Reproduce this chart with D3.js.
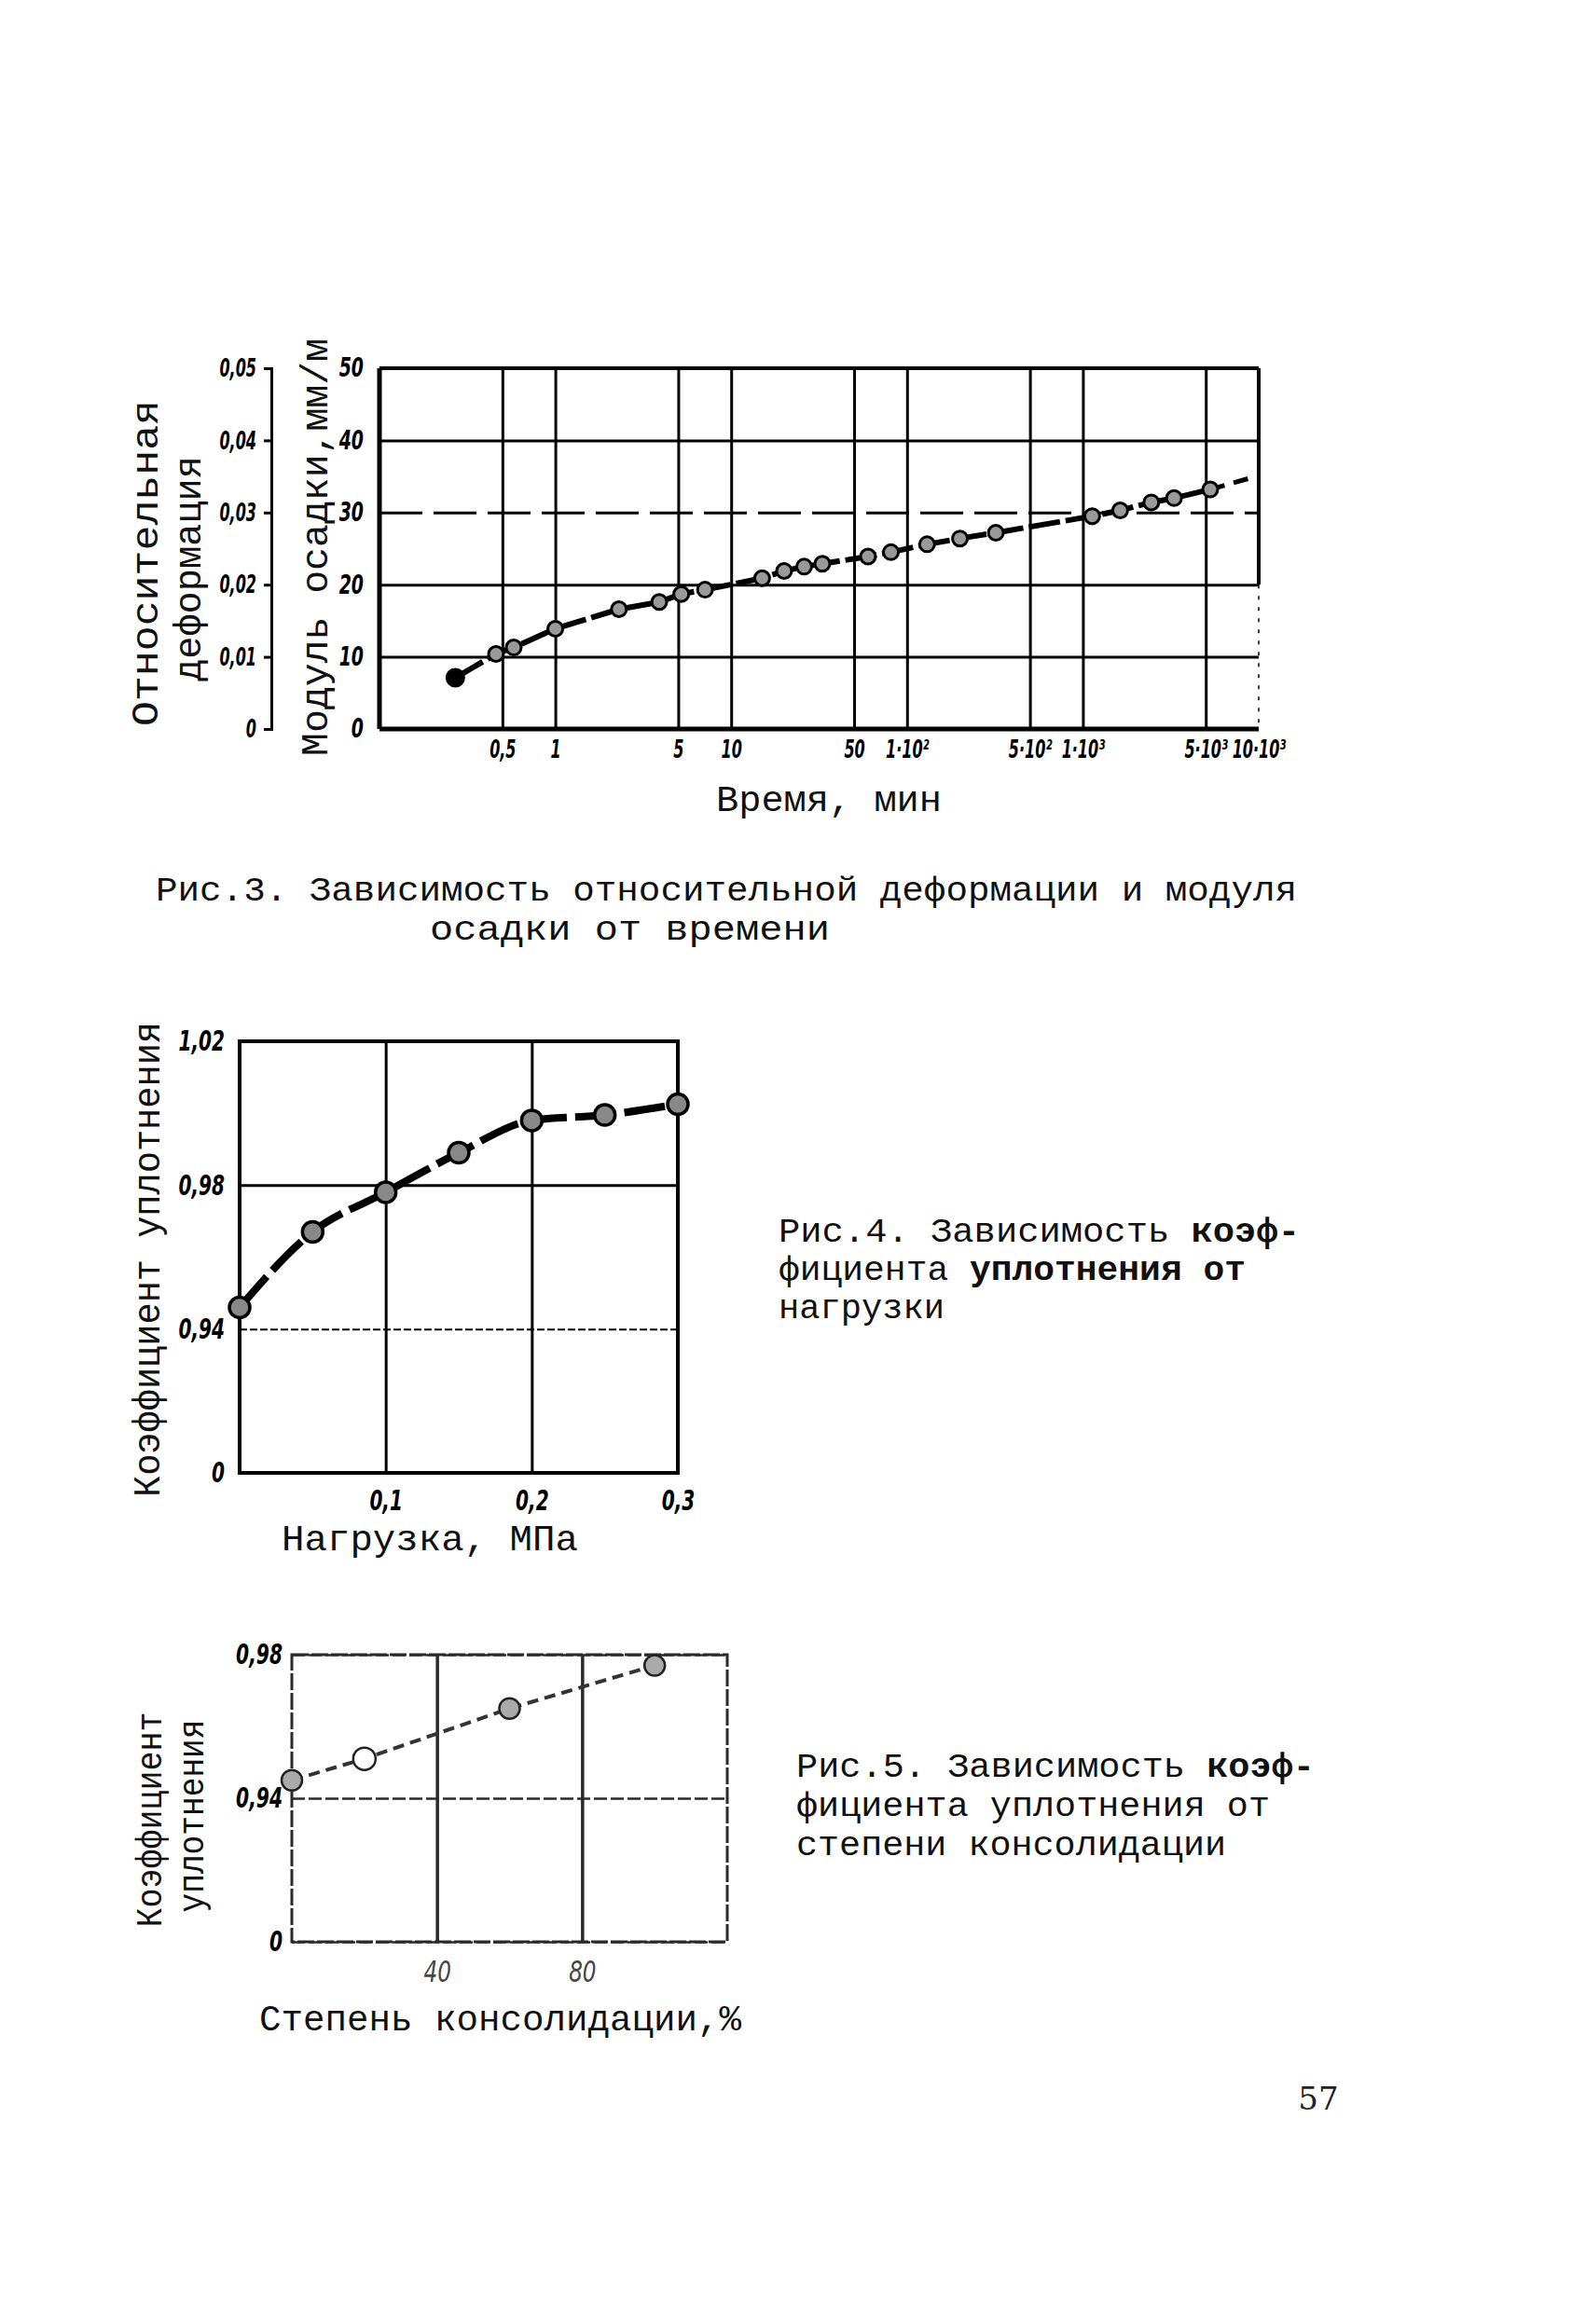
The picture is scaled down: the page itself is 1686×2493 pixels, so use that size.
<!DOCTYPE html>
<html>
<head>
<meta charset="utf-8">
<script src="https://cdn.jsdelivr.net/npm/d3@7"></script>
<style>
  body { margin: 0; background: #fff; }
  .tk text { font-family: "Liberation Sans Narrow", "DejaVu Sans Condensed", "Liberation Sans", sans-serif;
             font-weight: bold; font-style: italic; fill: #000; }
  .tw { font-family: "Liberation Mono", "DejaVu Sans Mono", monospace; fill: #111; }
</style>
</head>
<body>
<svg id="page"></svg>
<script>
// ---- Рис.3 : modulus vs time (log)
var time    = [0.27, 0.46, 0.58, 1, 2.3, 3.9, 5.2, 7.1, 15, 20, 26, 33, 60, 81, 130, 200, 320, 1130, 1630, 2450, 3300, 5300];
var modulus = [7.1, 10.4, 11.3, 13.9, 16.6, 17.6, 18.7, 19.3, 20.9, 21.9, 22.5, 22.9, 23.9, 24.5, 25.6, 26.4, 27.2, 29.5, 30.3, 31.4, 32.0, 33.2];
var timeTail    = [5300, 9000];
var modulusTail = [33.2, 34.8];
var timeTicks  = [0.5, 1, 5, 10, 50, 100, 500, 1000, 5000, 10000];
var timeLabels = ["0,5", "1", "5", "10", "50", "1·10²", "5·10²", "1·10³", "5·10³", "10·10³"];
var modulusTicks = [0, 10, 20, 30, 40, 50];
var strainTicks  = [0, 0.01, 0.02, 0.03, 0.04, 0.05];
var strainLabels = ["0", "0,01", "0,02", "0,03", "0,04", "0,05"];

// ---- Рис.4 : compaction vs load
var load       = [0, 0.05, 0.1, 0.15, 0.2, 0.25, 0.3];
var compaction = [0.946, 0.967, 0.978, 0.989, 0.998, 0.9995, 1.0025];
var loadTicks  = [0.1, 0.2, 0.3];
var loadLabels = ["0,1", "0,2", "0,3"];
var kTicks  = [0, 0.94, 0.98, 1.02];
var kLabels = ["0", "0,94", "0,98", "1,02"];

// ---- Рис.5 : compaction vs consolidation
var consolidation = [0, 20, 60, 100];
var compaction5   = [0.945, 0.951, 0.965, 0.977];
var consTicks  = [40, 80];
var consLabels = ["40", "80"];
var k5Ticks  = [0, 0.94, 0.98];
var k5Labels = ["0", "0,94", "0,98"];

var svg = d3.select("#page").attr("width", 1686).attr("height", 2493);
svg.append("rect").attr("width", 1686).attr("height", 2493).attr("fill", "#fff");

// typewriter text, stretched to the measured length
function tw(x, y, str, len, rot, size) {
  var g = svg.append("g").attr("transform", "translate(" + x + "," + y + ")" + (rot ? " rotate(-90)" : ""));
  return g.append("text").attr("class", "tw").attr("font-size", size || 36)
    .attr("text-anchor", rot ? "middle" : "start")
    .attr("dy", rot ? "0.35em" : 0)
    .attr("textLength", len).attr("lengthAdjust", "spacingAndGlyphs")
    .text(str);
}

// one caption line: plain part + bold part in a single text
function twMixed(x, y, plain, bold, len) {
  var t = svg.append("text").attr("class", "tw").attr("x", x).attr("y", y).attr("font-size", 36)
    .attr("textLength", len).attr("lengthAdjust", "spacingAndGlyphs");
  t.append("tspan").text(plain);
  t.append("tspan").attr("font-weight", "bold").text(bold);
  return t;
}

// narrow hand-lettered tick labels
function narrow(sel, size, sx) {
  sel.attr("font-size", size).each(function () {
    var t = d3.select(this);
    var ox = +t.attr("x") || 0, oy = +t.attr("y") || 0;
    t.attr("transform", "translate(" + ox + "," + oy + ") scale(" + sx + ",1)").attr("x", 0).attr("y", 0);
  });
}

// ================= Рис.3 =================
(function () {
  var L = 407, R = 1350, T = 395, B = 782;
  var x = d3.scaleLog().domain([0.1, 10000]).range([L, R]);
  var y = d3.scaleLinear().domain([0, 50]).range([B, T]);
  var ys = d3.scaleLinear().domain([0, 0.05]).range([B, T]);

  var gx = svg.append("g").attr("class", "tk").attr("transform", "translate(0," + B + ")")
    .call(d3.axisBottom(x).tickValues(timeTicks).tickSize(-(B - T)).tickPadding(12)
      .tickFormat(function (d, i) { return timeLabels[i]; }));
  gx.select(".domain").remove();
  gx.selectAll("line").attr("stroke", "#000").attr("stroke-width", 3)
    .filter(function (d) { return d === 10000; }).remove();
  narrow(gx.selectAll("text"), 27, 0.66);

  var gy = svg.append("g").attr("class", "tk").attr("transform", "translate(" + L + ",0)")
    .call(d3.axisLeft(y).tickValues(modulusTicks).tickSize(-(R - L)).tickPadding(17));
  gy.select(".domain").remove();
  gy.selectAll("line").attr("stroke", "#000").attr("stroke-width", 3)
    .attr("stroke-dasharray", function (d) { return d === 30 ? "46,12" : null; });
  narrow(gy.selectAll("text"), 28, 0.75);

  var fr = svg.append("g").attr("stroke", "#000").attr("fill", "none");
  fr.append("line").attr("x1", L).attr("x2", R).attr("y1", T).attr("y2", T).attr("stroke-width", 4);
  fr.append("line").attr("x1", L).attr("x2", R).attr("y1", B).attr("y2", B).attr("stroke-width", 5);
  fr.append("line").attr("x1", L).attr("x2", L).attr("y1", T).attr("y2", B).attr("stroke-width", 5);
  fr.append("line").attr("x1", R).attr("x2", R).attr("y1", T).attr("y2", y(20)).attr("stroke-width", 4);
  fr.append("line").attr("x1", R).attr("x2", R).attr("y1", y(20)).attr("y2", B)
    .attr("stroke-width", 1.5).attr("stroke-dasharray", "4,8");

  var gs = svg.append("g").attr("class", "tk").attr("transform", "translate(291,0)")
    .call(d3.axisLeft(ys).tickValues(strainTicks).tickSize(8).tickPadding(8)
      .tickFormat(function (d, i) { return strainLabels[i]; }));
  gs.select(".domain").attr("stroke-width", 3);
  gs.selectAll("line").attr("stroke-width", 3);
  narrow(gs.selectAll("text"), 27, 0.66);

  var pts = d3.zip(time, modulus);
  var line = d3.line().x(function (d) { return x(d[0]); }).y(function (d) { return y(d[1]); });
  svg.append("path").datum(pts).attr("d", line).attr("fill", "none")
    .attr("stroke", "#000").attr("stroke-width", 6).attr("stroke-dasharray", "34,6");
  svg.append("path").datum(d3.zip(timeTail, modulusTail)).attr("d", line).attr("fill", "none")
    .attr("stroke", "#000").attr("stroke-width", 5).attr("stroke-dasharray", "16,10");
  svg.append("g").selectAll("circle").data(pts).join("circle")
    .attr("cx", function (d) { return x(d[0]); }).attr("cy", function (d) { return y(d[1]); })
    .attr("r", function (d, i) { return i === 0 ? 9 : 8; })
    .attr("fill", function (d, i) { return i === 0 ? "#000" : "#999"; })
    .attr("stroke", "#000").attr("stroke-width", 3);

  tw(155, 604, "Относительная", 350, true, 40);
  tw(201, 610, "деформация", 242, true, 40);
  tw(337, 587, "Модуль осадки,мм/м", 448, true, 40);
  tw(768, 870, "Время, мин", 242, false, 38);
  tw(167, 966, "Рис.3. Зависимость относительной деформации и модуля", 1224);
  tw(461, 1008, "осадки от времени", 429);
})();

// ================= Рис.4 =================
(function () {
  var L = 257, R = 727, T = 1117, B = 1580;
  var x = d3.scaleLinear().domain([0, 0.3]).range([L, R]);
  var y = d3.scaleLinear().domain(kTicks)
    .range(kTicks.map(function (d, i) { return B - i * (B - T) / (kTicks.length - 1); }));

  var gx = svg.append("g").attr("class", "tk").attr("transform", "translate(0," + B + ")")
    .call(d3.axisBottom(x).tickValues(loadTicks).tickSize(-(B - T)).tickPadding(18)
      .tickFormat(function (d, i) { return loadLabels[i]; }));
  gx.select(".domain").remove();
  gx.selectAll("line").attr("stroke", "#000").attr("stroke-width", 3);
  narrow(gx.selectAll("text"), 31, 0.72);

  var gy = svg.append("g").attr("class", "tk").attr("transform", "translate(" + L + ",0)")
    .call(d3.axisLeft(y).tickValues(kTicks).tickSize(-(R - L)).tickPadding(16)
      .tickFormat(function (d, i) { return kLabels[i]; }));
  gy.select(".domain").remove();
  gy.selectAll("line").attr("stroke", "#000").attr("stroke-width", function (d) { return d === 0.94 ? 2 : 3; })
    .attr("stroke-dasharray", function (d) { return d === 0.94 ? "8,3" : null; });
  narrow(gy.selectAll("text"), 31, 0.72);

  svg.append("rect").attr("x", L).attr("y", T).attr("width", R - L).attr("height", B - T)
    .attr("fill", "none").attr("stroke", "#000").attr("stroke-width", 4);

  var pts = d3.zip(load, compaction);
  var line = d3.line().curve(d3.curveMonotoneX)
    .x(function (d) { return x(d[0]); }).y(function (d) { return y(d[1]); });
  svg.append("path").datum(pts).attr("d", line).attr("fill", "none")
    .attr("stroke", "#000").attr("stroke-width", 8).attr("stroke-dasharray", "44,9");
  svg.append("g").selectAll("circle").data(pts).join("circle")
    .attr("cx", function (d) { return x(d[0]); }).attr("cy", function (d) { return y(d[1]); })
    .attr("r", 11).attr("fill", "#888").attr("stroke", "#000").attr("stroke-width", 3.5);

  tw(157, 1351, "Коэффициент уплотнения", 510, true, 40);
  tw(302, 1663, "Нагрузка, МПа", 318, false, 38);
  twMixed(835, 1332, "Рис.4. Зависимость ", "коэф-", 559);
  twMixed(835, 1373, "фициента ", "уплотнения от", 501);
  tw(835, 1414, "нагрузки", 178);
})();

// ================= Рис.5 =================
(function () {
  var L = 313, R = 780, T = 1775, B = 2083;
  var x = d3.scaleLinear().domain([0, 120]).range([L, R]);
  var y = d3.scaleLinear().domain(k5Ticks)
    .range(k5Ticks.map(function (d, i) { return B - i * (B - T) / (k5Ticks.length - 1); }));
  var ink = "#2a2a2a";

  var gx = svg.append("g").attr("class", "tk").attr("transform", "translate(0," + B + ")")
    .call(d3.axisBottom(x).tickValues(consTicks).tickSize(-(B - T)).tickPadding(20)
      .tickFormat(function (d, i) { return consLabels[i]; }));
  gx.select(".domain").remove();
  gx.selectAll("line").attr("stroke", ink).attr("stroke-width", 3.5);
  narrow(gx.selectAll("text"), 32, 0.8);
  gx.selectAll("text").style("font-weight", "normal").style("fill", "#444");

  var gy = svg.append("g").attr("class", "tk").attr("transform", "translate(" + L + ",0)")
    .call(d3.axisLeft(y).tickValues(k5Ticks).tickSize(-(R - L)).tickPadding(10)
      .tickFormat(function (d, i) { return k5Labels[i]; }));
  gy.select(".domain").remove();
  gy.selectAll("line").attr("stroke", ink).attr("stroke-width", 2.5).attr("stroke-dasharray", "14,4");
  narrow(gy.selectAll("text"), 30, 0.75);

  svg.append("rect").attr("x", L).attr("y", T).attr("width", R - L).attr("height", B - T)
    .attr("fill", "none").attr("stroke", ink).attr("stroke-width", 3).attr("stroke-dasharray", "18,3");

  var pts = d3.zip(consolidation, compaction5);
  var line = d3.line().x(function (d) { return x(d[0]); }).y(function (d) { return y(d[1]); });
  svg.append("path").datum(pts).attr("d", line).attr("fill", "none")
    .attr("stroke", "#333").attr("stroke-width", 4).attr("stroke-dasharray", "12,7");
  svg.append("g").selectAll("circle").data(pts).join("circle")
    .attr("cx", function (d) { return x(d[0]); }).attr("cy", function (d) { return y(d[1]); })
    .attr("r", function (d, i) { return i === 1 ? 12 : 11; })
    .attr("fill", function (d, i) { return i === 1 ? "#fff" : "#aaa"; })
    .attr("stroke", "#222").attr("stroke-width", 2.5);

  tw(160, 1952, "Коэффициент", 231, true, 38);
  tw(205, 1948, "уплотнения", 207, true, 38);
  tw(278, 2178, "Степень консолидации,%", 517, false, 38);
  twMixed(854, 1906, "Рис.5. Зависимость ", "коэф-", 556);
  tw(854, 1948, "фициента уплотнения от", 508);
  tw(854, 1990, "степени консолидации", 461);
})();

svg.append("text").attr("x", 1414).attr("y", 2263).attr("text-anchor", "middle")
  .attr("font-family", "DejaVu Serif").attr("font-size", 34).attr("fill", "#222").text("57");
</script>
</body>
</html>
